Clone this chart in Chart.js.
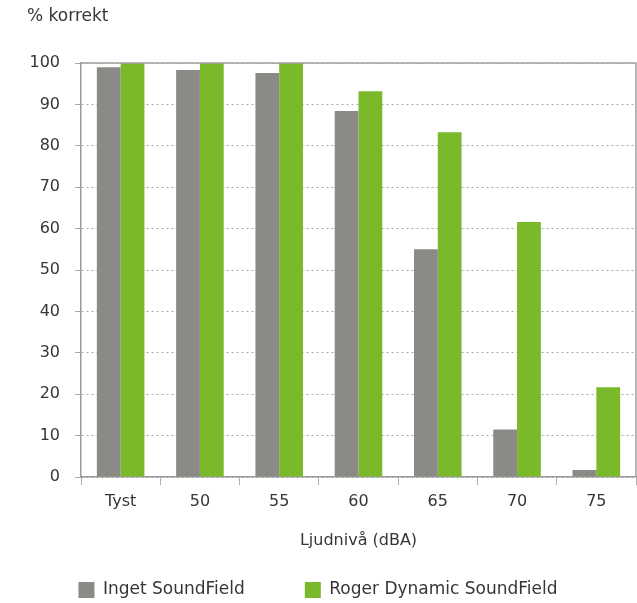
<!DOCTYPE html>
<html>
<head>
<meta charset="utf-8">
<script src="https://cdn.jsdelivr.net/npm/chart.js@4/dist/chart.umd.min.js"></script>
<style>
  html, body { margin: 0; padding: 0; background: #fff; }
  #wrap { width: 637px; height: 603px; }
</style>
</head>
<body>
<div id="wrap"><canvas id="myChart"></canvas></div>
<script>
const categories = ['Tyst', '50', '55', '60', '65', '70', '75'];
const ingetValues = [99, 98.3, 97.6, 88.4, 55, 11.5, 1.7];
const rogerValues = [100, 100, 100, 93.2, 83.3, 61.6, 21.7];
const seriesNames = ['Inget SoundField', 'Roger Dynamic SoundField'];
const yTicks = [0, 10, 20, 30, 40, 50, 60, 70, 80, 90, 100];
const yTitle = '% korrekt';

const textColor = '#363636';
const fontFamily = '"DejaVu Sans", sans-serif';

// frame line on top and right of the plot, plus the "% korrekt" label
const framePlugin = {
    id: 'frame',
    afterDatasetsDraw(chart){
        const a = chart.chartArea;
        const ctx = chart.ctx;
        ctx.save();
        ctx.strokeStyle = '#a0a0a0';
        ctx.lineWidth = 1.5;
        ctx.beginPath();
        ctx.moveTo(a.left, a.top);
        ctx.lineTo(a.right, a.top);
        ctx.lineTo(a.right, a.bottom);
        ctx.stroke();
        ctx.restore();
    },
    afterDraw(chart){
        const ctx = chart.ctx;
        ctx.save();
        ctx.fillStyle = textColor;
        ctx.font = '17px ' + fontFamily;
        ctx.textAlign = 'left';
        ctx.textBaseline = 'middle';
        ctx.fillText(yTitle, chart.chartArea.left - 54, 17);
        ctx.restore();
    }
};

const ctx = document.getElementById('myChart');
new Chart(ctx, {
    type: 'bar',
    data: {
        labels: categories,
        datasets: [{
            label: seriesNames[0],
            data: ingetValues,
            backgroundColor: '#8b8a86',
            categoryPercentage: 0.6,
            barPercentage: 1
        }, {
            label: seriesNames[1],
            data: rogerValues,
            backgroundColor: '#7ab929',
            categoryPercentage: 0.6,
            barPercentage: 1
        }]
    },
    options: {
        responsive: true,
        maintainAspectRatio: false,
        animation: false,
        layout: { padding: { left: 0, right: 1, top: 63, bottom: -5.5 } },
        font: { family: fontFamily },
        plugins: {
            legend: {
                position: 'bottom',
                labels: {
                    color: textColor,
                    font: { family: fontFamily, size: 17 },
                    boxWidth: 16,
                    boxHeight: 16,
                    padding: 60
                }
            },
            tooltip: { enabled: false }
        },
        scales: {
            x: {
                afterFit(axis){ axis.height = 44.5; },
                grid: {
                    drawOnChartArea: false,
                    color: '#b0b0b0',
                    tickLength: 8
                },
                border: { color: '#9a9a9a', width: 1.5 },
                ticks: {
                    color: textColor,
                    font: { family: fontFamily, size: 16 },
                    padding: 7
                },
                title: {
                    display: true,
                    text: 'Ljudnivå (dBA)',
                    color: textColor,
                    font: { family: fontFamily, size: 16 },
                    padding: { top: 16, bottom: -29 }
                }
            },
            y: {
                min: 0,
                max: 100,
                afterFit(axis){ axis.width = 81; },
                afterBuildTicks(axis){ axis.ticks = yTicks.map(v => ({ value: v })); },
                grid: {
                    color: '#a8a8a8',
                    lineWidth: 1,
                    tickLength: 6
                },
                border: { color: '#9a9a9a', width: 1.5, dash: [2, 3] },
                ticks: {
                    color: textColor,
                    font: { family: fontFamily, size: 16 },
                    padding: 15
                }
            }
        }
    },
    plugins: [framePlugin]
});
</script>
</body>
</html>
